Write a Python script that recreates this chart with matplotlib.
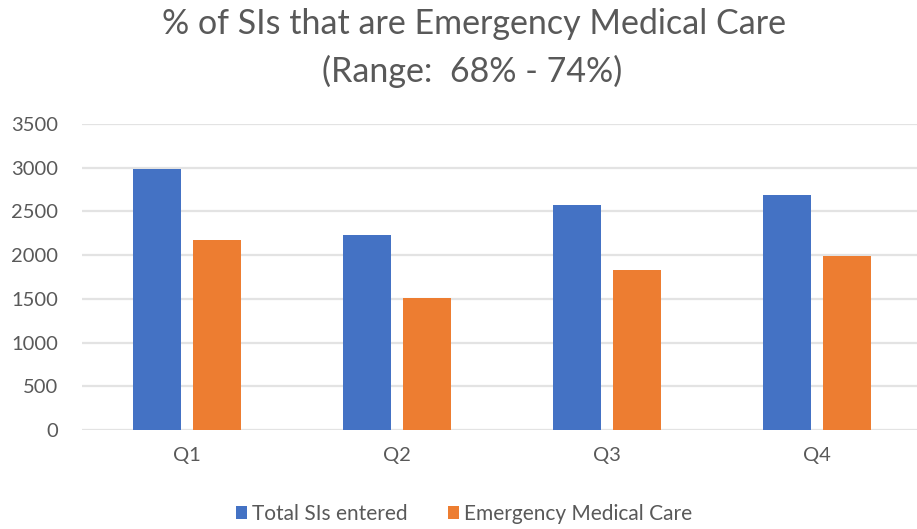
import matplotlib.pyplot as plt
import numpy as np

plt.rcParams['font.family'] = ['Lato', 'DejaVu Sans']

quarters = ['Q1', 'Q2', 'Q3', 'Q4']
total_sis = [2990, 2235, 2575, 2690]
emergency_care = [2170, 1510, 1827, 1990]
series_names = ['Total SIs entered', 'Emergency Medical Care']
y_ticks = [0, 500, 1000, 1500, 2000, 2500, 3000, 3500]

blue = '#4472C4'
orange = '#ED7D31'
text_gray = '#595959'

fig = plt.figure(figsize=(9.17, 5.29), dpi=100)
ax = fig.add_axes([82 / 917, 1 - 430 / 529, 840 / 917, 306 / 529])

x = np.arange(len(quarters))
bar_width = 0.229
offset = 0.143

ax.bar(x - offset, total_sis, bar_width, color=blue, label=series_names[0], zorder=3)
ax.bar(x + offset, emergency_care, bar_width, color=orange, label=series_names[1], zorder=3)

ax.set_xlim(-0.5, 3.5)
ax.set_ylim(0, 3500)
ax.set_yticks(y_ticks)
ax.set_yticklabels([str(t) for t in y_ticks])
ax.set_xticks(x)
ax.set_xticklabels(quarters)
ax.tick_params(axis='both', length=0, labelsize=14.5, colors=text_gray)
ax.tick_params(axis='y', pad=17)
ax.tick_params(axis='x', pad=12)
ax.grid(axis='y', color='#e3e3e3', linewidth=1.6, zorder=0)
for s in ax.spines.values():
    s.set_visible(False)

fig.text(0.517, 1 - 24 / 529, '% of SIs that are Emergency Medical Care',
         ha='center', va='center', fontsize=24.5, color=text_gray)
fig.text(0.515, 1 - 71 / 529, '(Range:  68% - 74%)',
         ha='center', va='center', fontsize=24.5, color=text_gray)

fig.legend(loc='center', bbox_to_anchor=(0.506, 1 - 514 / 529), ncol=2, frameon=False,
           fontsize=15, labelcolor=text_gray, handlelength=0.55, handleheight=0.55,
           handletextpad=0.25, columnspacing=1.9)

fig.savefig('out.png', dpi=100)
